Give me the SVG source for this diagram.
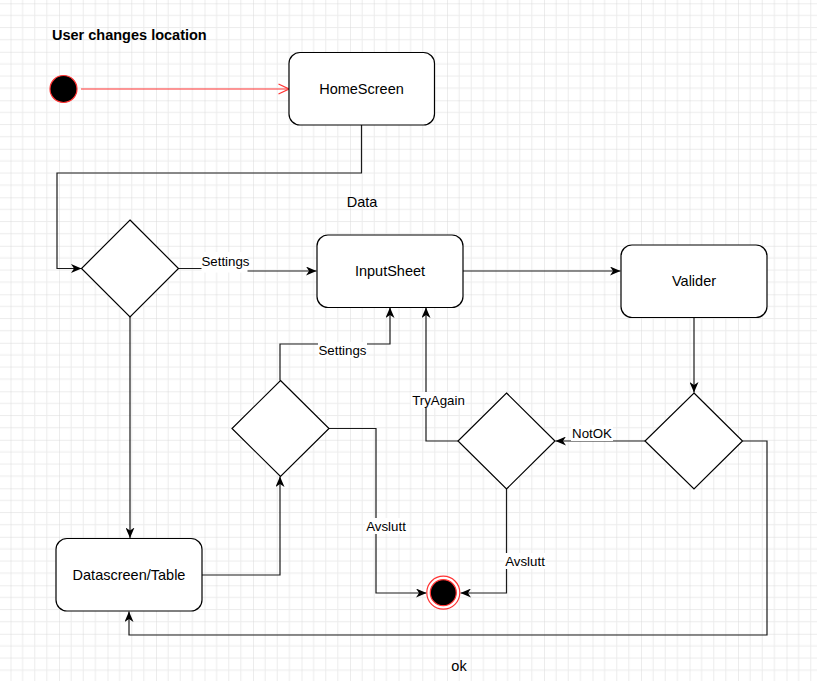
<svg xmlns="http://www.w3.org/2000/svg" width="817" height="681" viewBox="0 0 817 681">
  <defs>
    <pattern id="grid" patternUnits="userSpaceOnUse" x="10.5" y="3.3" width="48.5" height="48.5">
      <path d="M12.125,0 V48.5 M24.25,0 V48.5 M36.375,0 V48.5 M0,12.125 H48.5 M0,24.25 H48.5 M0,36.375 H48.5" stroke="#ececec" stroke-width="1" fill="none"/>
      <path d="M0,0 V48.5 M0,0 H48.5" stroke="#d9d9d9" stroke-width="1" fill="none"/>
    </pattern>
    <marker id="arr" markerUnits="userSpaceOnUse" viewBox="0 0 11 9" refX="10.5" refY="4.5" markerWidth="11" markerHeight="9" orient="auto">
      <path d="M0,0 L10.5,4.5 L0,9 L3,4.5 Z" fill="#000"/>
    </marker>
    <marker id="open" markerUnits="userSpaceOnUse" viewBox="0 0 12 12" refX="11" refY="6" markerWidth="12" markerHeight="12" orient="auto">
      <path d="M0.5,1 L11,6 L0.5,11" fill="none" stroke="#ff3333" stroke-width="1.3"/>
    </marker>
  </defs>
  <style>
    .node { fill: #fff; stroke: #000; stroke-width: 1.2; }
    .txt { font-family: "Liberation Sans", Arial, sans-serif; font-size: 14.5px; fill: #000; text-anchor: middle; dominant-baseline: central; }
    .lbl { font-family: "Liberation Sans", Arial, sans-serif; font-size: 13.3px; fill: #000; text-anchor: middle; dominant-baseline: central; }
    .lbg { fill: #fff; }
    .edge { fill: none; stroke: #1a1a1a; stroke-width: 1.2; marker-end: url(#arr); }
  </style>
  <rect x="0" y="0" width="817" height="681" fill="#fff"/>
  <rect x="0" y="0" width="817" height="681" fill="url(#grid)"/>

  <text x="52" y="35" font-family="'Liberation Sans', Arial, sans-serif" font-size="14.5" font-weight="bold" dominant-baseline="central" fill="#000">User changes location</text>

  <g id="connectors">
    <path d="M81,89 H289" fill="none" stroke="#ff3333" stroke-width="1.2" marker-end="url(#open)"/>
    <path class="edge" d="M361.5,125 V173 H57 V268.5 H81.5"/>
    <path class="edge" d="M178.5,268.5 H225 V271 H316.5"/>
    <path class="edge" d="M463,271 H620.5"/>
    <path class="edge" d="M694,317 V392.5"/>
    <path class="edge" d="M645,441 H555.5"/>
    <path class="edge" d="M742.5,441 H767 V635 H129 V611.5"/>
    <path class="edge" d="M458,441 H426 V307.5"/>
    <path class="edge" d="M506.5,489 V593 H460.5"/>
    <path class="edge" d="M130,317 V538"/>
    <path class="edge" d="M202,575 H280 V476.5"/>
    <path class="edge" d="M280,380.5 V344 H390 V307.5"/>
    <path class="edge" d="M329,428.5 H376 V593 H426.5"/>

    <rect class="lbg" x="201.5" y="252" width="46" height="20.5"/>
    <text class="lbl" x="225.5" y="261">Settings</text>
    <rect class="lbg" x="318" y="342" width="49" height="16"/>
    <text class="lbl" x="342.5" y="350">Settings</text>
    <rect class="lbg" x="411" y="392" width="55" height="16"/>
    <text class="lbl" x="438.5" y="400.5">TryAgain</text>
    <rect class="lbg" x="571" y="425" width="42" height="16"/>
    <text class="lbl" x="592" y="433">NotOK</text>
    <rect class="lbg" x="504" y="553" width="42" height="16"/>
    <text class="lbl" x="525" y="561">Avslutt</text>
    <rect class="lbg" x="365" y="518" width="42" height="16"/>
    <text class="lbl" x="386" y="526.5">Avslutt</text>
  </g>

  <g id="start">
    <circle cx="63.5" cy="89" r="13.5" fill="#000" stroke="#ff3333" stroke-width="1.2"/>
  </g>
  <g id="homescreen">
    <rect class="node" x="289" y="52.5" width="145.5" height="72.5" rx="11" ry="11"/>
    <text class="txt" x="361.5" y="89">HomeScreen</text>
  </g>
  <g id="data-label">
    <text class="txt" x="362" y="202">Data</text>
  </g>
  <g id="decision1">
    <polygon class="node" points="130,220 178.5,268.5 130,317 81.5,268.5"/>
  </g>
  <g id="inputsheet">
    <rect class="node" x="317" y="235" width="146" height="72.5" rx="11" ry="11"/>
    <text class="txt" x="390" y="271">InputSheet</text>
  </g>
  <g id="valider">
    <rect class="node" x="621" y="245" width="146" height="72.5" rx="11" ry="11"/>
    <text class="txt" x="694" y="281">Valider</text>
  </g>
  <g id="decision3">
    <polygon class="node" points="694,393 742.5,441 694,489 645,441"/>
  </g>
  <g id="decision2">
    <polygon class="node" points="506.5,393 555,441 506.5,489 458,441"/>
  </g>
  <g id="decision4">
    <polygon class="node" points="280.5,380.5 329,428.5 280.5,476.5 232,428.5"/>
  </g>
  <g id="datascreen">
    <rect class="node" x="56" y="538.5" width="146" height="72.5" rx="11" ry="11"/>
    <text class="txt" x="129" y="575">Datascreen/Table</text>
  </g>
  <g id="end">
    <circle cx="443.3" cy="592.7" r="16.5" fill="#fff" stroke="#ff3333" stroke-width="1.2"/>
    <circle cx="443.3" cy="592.7" r="13" fill="#000" stroke="#ff3333" stroke-width="1.2"/>
  </g>
  <g id="ok-label">
    <text class="txt" x="459" y="666">ok</text>
  </g>
</svg>
